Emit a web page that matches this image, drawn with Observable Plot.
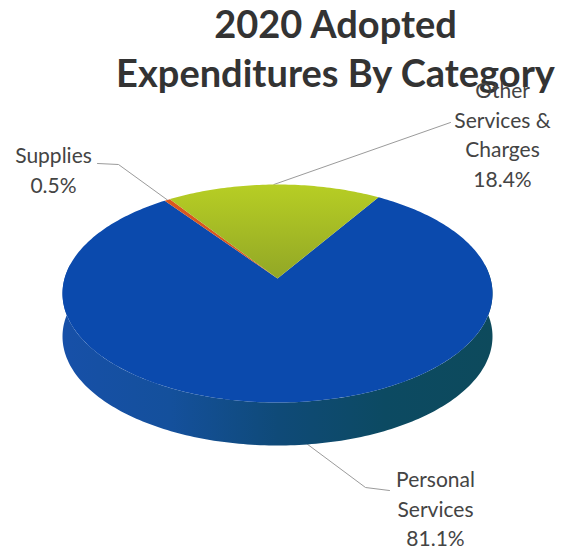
<!DOCTYPE html>
<html>
<head>
<meta charset="utf-8">
<style>
  html, body { margin: 0; padding: 0; background: #fff; }
  svg { display: block; }
</style>
<script src="https://cdn.jsdelivr.net/npm/d3@7"></script>
<script src="https://cdn.jsdelivr.net/npm/@observablehq/plot@0.6"></script>
</head>
<body>
<div id="chart"></div>
<script>
// Budget shares, clockwise from the right edge of the green wedge.
const categories = ["Personal Services", "Supplies", "Other Services & Charges"];
const shares = [81.1, 0.5, 18.4];
const sliceFills = ["#0b4aad", "#d8571f", "url(#greenFace)"];
const titleLines = "2020 Adopted\nExpenditures By Category";

// Tilted disc: a circle seen in perspective, so its centre sits above the ellipse centre.
const disc = {cx: 277, cy: 293, a: 215, b: 109, apexLift: 15, depth: 43, startDeg: 32};
const persp = disc.apexLift / disc.b;
const widthScale = disc.a * Math.sqrt(1 - persp * persp);

function rim(rad, drop = 0) {
  const u = Math.sin(rad), v = Math.cos(rad), w = 1 + persp * v;
  return {
    x: disc.cx + widthScale * u / w,
    y: disc.cy - (disc.b * v + disc.apexLift) / w + drop
  };
}
const apex = {x: disc.cx, y: disc.cy - disc.apexLift};
const deg = Math.PI / 180;

const arcs = d3.pie().sort(null)
  .startAngle(disc.startDeg * deg)
  .endAngle((disc.startDeg + 360) * deg)(shares);

// Face outline of each slice: centre, then the rim in one-degree steps.
const faces = arcs.map((arc, i) => {
  const steps = Math.max(2, Math.ceil((arc.endAngle - arc.startAngle) / deg));
  const pts = [apex];
  for (let s = 0; s <= steps; s++) {
    pts.push(rim(arc.startAngle + (arc.endAngle - arc.startAngle) * s / steps));
  }
  return {name: categories[i], fill: sliceFills[i], pts};
});

// Wall of the disc: outer rim of the front half, returned along the dropped rim.
const frontUpper = [], frontLower = [];
for (let d = 90; d <= 270; d++) {
  // The widest points of the perspective ellipse lie slightly behind the quarter angles.
  const rad = (d + (d < 180 ? -8 : d > 180 ? 8 : 0) * Math.abs(Math.sin(d * deg)) ** 8) * deg;
  frontUpper.push(rim(rad));
  frontLower.push(rim(rad, disc.depth));
}
const wall = [...frontUpper, ...frontLower.reverse()];

// Leader lines run from a slice's rim through a bend to its label.
const midAngle = i => (arcs[i].startAngle + arcs[i].endAngle) / 2;
const personalFoot = rim(midAngle(0) - 5 * deg, disc.depth);
const suppliesFoot = rim(midAngle(1));
const otherFoot = rim(midAngle(2));
const leaders = [
  [personalFoot, {x: 365, y: 487}, {x: 389, y: 490}],
  [suppliesFoot, {x: 118, y: 164}, {x: 97, y: 163}],
  [otherFoot, {x: 450, y: 122}]
].flatMap((pts, id) => pts.map(p => ({...p, id})));

// Category labels, with the percentage read from the shares above.
const labelRows = [
  {x: 435, y: 466, text: `Personal\nServices\n${shares[0]}%`},
  {x: 53, y: 142, text: `Supplies\n${shares[1]}%`},
  {x: 502, y: 77, text: `Other\nServices &\nCharges\n${shares[2]}%`}
];

const xOf = d => d.x, yOf = d => d.y;

const chart = Plot.plot({
  width: 563,
  height: 552,
  margin: 0,
  style: {background: "#fff", fontFamily: "Lato, 'Open Sans', sans-serif"},
  x: {domain: [0, 563], range: [0, 563], axis: null},
  y: {domain: [0, 552], range: [0, 552], axis: null},
  marks: [
    () => {
      const defs = d3.create("svg:defs");
      const side = defs.append("linearGradient").attr("id", "wallShade");
      [[0, "#1750a8"], [0.25, "#14509c"], [0.5, "#0f4a78"], [0.75, "#0c4a62"], [1, "#0d4a5c"]]
        .forEach(([o, c]) => side.append("stop").attr("offset", o).attr("stop-color", c));
      const green = defs.append("linearGradient").attr("id", "greenFace")
        .attr("x1", 0).attr("y1", 0).attr("x2", 0).attr("y2", 1);
      [[0, "#b7ce24"], [1, "#92a726"]]
        .forEach(([o, c]) => green.append("stop").attr("offset", o).attr("stop-color", c));
      return defs.node();
    },
    Plot.line(leaders, {x: xOf, y: yOf, z: "id", stroke: "#9b9b9b", strokeWidth: 1}),
    Plot.line(wall, {x: xOf, y: yOf, fill: "url(#wallShade)", stroke: "none"}),
    ...faces.map(f => Plot.line(f.pts, {x: xOf, y: yOf, fill: f.fill, stroke: "none"})),
    Plot.text([titleLines], {
      x: () => 335, y: () => 3, text: d => d,
      fontSize: 38, fontWeight: 700, fill: "#333", lineAnchor: "top",
      lineHeight: 1.29, textAnchor: "middle"
    }),
    Plot.text(labelRows, {
      x: xOf, y: yOf, text: "text", fontSize: 21, fill: "#444",
      lineAnchor: "top", lineHeight: 1.4, textAnchor: "middle"
    })
  ]
});
document.getElementById("chart").append(chart);
</script>
</body>
</html>
